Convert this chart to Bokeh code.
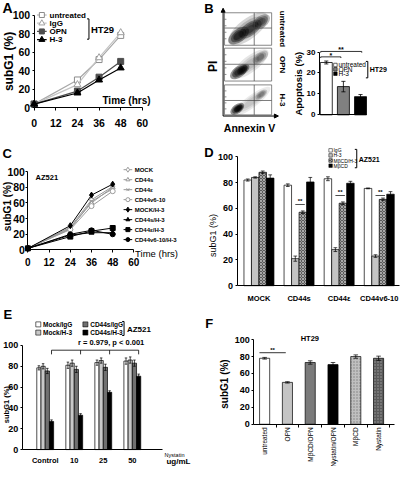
import math
from bokeh.plotting import figure
from bokeh.models import Range1d, FixedTicker, Label, Arrow, NormalHead
from bokeh.layouts import row, column
from bokeh.embed import file_html
from bokeh.resources import INLINE

FONT = "Liberation Sans"
SX = 400 / 416
SY = 466 / 482

# ---------------- data ----------------
a_time = [0, 24, 36, 48]
a_names = ["untreated", "IgG", "OPN", "H-3"]
a_untreated = [4, 30, 52, 78]
a_igg = [4, 25, 54, 81]
a_opn = [4, 18, 33, 50]
a_h3 = [4, 16, 30, 43]
a_x_ticks = [0, 12, 24, 36, 48, 60]

b_flow_labels = ["untreated", "OPN", "H-3"]
b_flow_box_top = [12.7, 49.3, 87.3]
b_flow_box_bottom = [46.3, 83.3, 118.3]
b_flow_quad_v = [0.53, 0.51, 0.48]
# approximate dot-cloud regions of each flow plot (box units, width/height in px, opacity)
b_cloud_u = [[0.50, 0.30, 0.55, 0.78], [0.55, 0.30, 0.40, 0.76], [0.58, 0.27, 0.30, 0.78]]
b_cloud_v = [[0.50, 0.30, 0.50, 0.72], [0.52, 0.28, 0.35, 0.72], [0.45, 0.20, 0.22, 0.68]]
b_cloud_w = [[48, 24, 26, 20], [44, 20, 14, 18], [46, 16, 10, 14]]
b_cloud_h = [[20, 13, 13, 12], [16, 11, 8, 10], [12, 9, 6, 7]]
b_cloud_alpha = [[0.35, 0.85, 0.6, 0.6], [0.22, 0.9, 0.9, 0.4], [0.18, 0.95, 0.95, 0.35]]
b_groups = ["untreated", "OPN", "H-3"]
b_apoptosis = [25.0, 13.5, 8.7]
b_apoptosis_err = [0.7, 2.5, 1.0]
b_colors = ["white", "#808080", "black"]
b_y_ticks = [0, 10, 20, 30]

c_time = [0, 24, 36, 48]
c_names = ["MOCK", "CD44s", "CD44ε", "CD44v6-10",
           "MOCK/H-3", "CD44s/H-3", "CD44ε/H-3", "CD44v6-10/H-3"]
c_mock = [2, 29, 64, 81]
c_cd44s = [2, 28, 60, 80]
c_cd44e = [2, 27, 62, 78]
c_cd44v = [2, 26, 56, 75]
c_mock_h3 = [2, 31, 70, 84]
c_cd44s_h3 = [2, 19, 22, 22]
c_cd44e_h3 = [2, 17, 24, 28]
c_cd44v_h3 = [2, 20, 25, 20]

d_groups = ["MOCK", "CD44s", "CD44ε", "CD44v6-10"]
d_names = ["IgG", "H-3", "MβCD/H-3", "MβCD"]
d_igg = [82, 78, 83, 75.5]
d_igg_err = [0.8, 1.0, 1.5, 0.3]
d_h3 = [84, 21, 28, 23]
d_h3_err = [0.5, 2.0, 1.5, 1.0]
d_mbcd_h3 = [88, 57, 64, 67]
d_mbcd_h3_err = [1.0, 1.0, 1.0, 1.0]
d_mbcd = [83.5, 80.5, 79.5, 71]
d_mbcd_err = [2.5, 3.5, 1.5, 2.0]

e_groups = ["Control", "10", "25", "50"]
e_names = ["Mock/IgG", "Mock/H-3", "CD44s/IgG", "CD44s/H-3"]
e_mock_igg = [78.5, 81, 83.5, 85]
e_mock_igg_err = [2.0, 3.0, 2.5, 3.0]
e_mock_h3 = [80, 83, 85.5, 86]
e_mock_h3_err = [2.5, 3.0, 2.5, 3.0]
e_cd44s_igg = [75.5, 77, 79, 83]
e_cd44s_igg_err = [2.5, 3.0, 3.0, 3.0]
e_cd44s_h3 = [27, 33, 55, 70.5]
e_cd44s_h3_err = [1.5, 1.5, 1.5, 2.0]

f_groups = ["untreated", "OPN", "MβCD/OPN", "Nystatin/OPN", "MβCD", "Nystatin"]
f_values = [78, 49.5, 73, 70.5, 80, 78]
f_err = [1.0, 0.8, 2.0, 2.5, 2.0, 2.5]

subg_ticks = [0, 20, 40, 60, 80, 100]


# ---------------- helpers ----------------
class Panel:
    """A figure whose frame fills it; axes are drawn at fixed data locations.
    Positions of annotations are given in reference-image pixels (rx, ry)."""

    def __init__(self, ox, oy, w, h, ax_rx, ax_ry, kx, ky, x0=0.0, y0=0.0, axes=True):
        self.ax_rx, self.ax_ry, self.kx, self.ky, self.x0, self.y0 = ax_rx, ax_ry, kx, ky, x0, y0
        xs = self.X(ox / SX)
        xe = self.X((ox + w) / SX)
        yb = self.Y((oy + h) / SY)
        yt = self.Y(oy / SY)
        self.p = figure(width=w, height=h, title=None, x_range=Range1d(xs, xe),
                        y_range=Range1d(yb, yt), toolbar_location=None, output_backend="svg",
                        min_border=0, outline_line_color=None)
        self.p.grid.visible = False
        if axes:
            self.p.xaxis.fixed_location = y0
            self.p.yaxis.fixed_location = x0
        else:
            self.p.axis.visible = False

    def X(self, rx):
        return self.x0 + (rx - self.ax_rx) / self.kx

    def Y(self, ry):
        return self.y0 + (self.ax_ry - ry) / self.ky

    def T(self, rx, ry, text, size, bold=False, align="left", base="middle", angle=0.0, dx=None):
        self.p.add_layout(Label(x=self.X(rx) if dx is None else dx, y=self.Y(ry), text=text,
                                text_font=FONT, text_font_size=f"{size}px",
                                text_font_style="bold" if bold else "normal",
                                text_align=align, text_baseline=base, angle=angle,
                                text_color="black"))

    def bracket(self, rx, ry0, ry1, tick=2.0, width=1.0):
        X, Y = self.X, self.Y
        self.p.line([X(rx - tick), X(rx), X(rx), X(rx - tick)], [Y(ry0), Y(ry0), Y(ry1), Y(ry1)],
                    line_color="black", line_width=width)


def axis(ax, ticks, bounds, size, standoff=2, tick_out=2, bold=True, overrides=None):
    ax.ticker = FixedTicker(ticks=ticks)
    ax.bounds = bounds
    ax.axis_line_color = "black"
    ax.axis_line_width = 1
    ax.major_tick_line_color = "black"
    ax.major_tick_in = 0
    ax.major_tick_out = tick_out
    ax.minor_tick_line_color = None
    ax.major_label_standoff = standoff
    ax.major_label_text_font = FONT
    ax.major_label_text_font_size = f"{size}px"
    ax.major_label_text_font_style = "bold" if bold else "normal"
    ax.major_label_text_color = "black"
    if overrides:
        ax.major_label_overrides = overrides


def errbars(p, xs, vals, errs, cap, width=0.8):
    lo = [v - e for v, e in zip(vals, errs)]
    hi = [v + e for v, e in zip(vals, errs)]
    p.segment(x0=xs, y0=lo, x1=xs, y1=hi, line_color="black", line_width=width)
    for ys in (lo, hi):
        p.segment(x0=[x - cap for x in xs], y0=ys, x1=[x + cap for x in xs], y1=ys,
                  line_color="black", line_width=width)


# ================= Panel A =================
A = Panel(0, 0, 202, 145, 35, 111, 1.875, 0.96)
pA, X, Y = A.p, A.X, A.Y
axis(pA.xaxis[0], a_x_ticks, (0, 60), 10.5, standoff=8, tick_out=3)
axis(pA.yaxis[0], subg_ticks, (0, 100), 10.5, standoff=2, tick_out=2)
a_styles = [
    (a_untreated, "#a8a8a8", "square", "white", "#8c8c8c", 6),
    (a_igg, "#c4c4c4", "triangle", "white", "#a0a0a0", 7),
    (a_opn, "#4d4d4d", "square", "#4d4d4d", "#4d4d4d", 6),
    (a_h3, "black", "triangle", "black", "black", 7),
]
a_leg_y = [15, 23.5, 32, 40.5]
for (vals, lc, mk, fc, mlc, sz), name, ly in zip(a_styles, a_names, a_leg_y):
    pA.line(a_time, vals, line_color=lc, line_width=1.2)
    pA.scatter(a_time, vals, marker=mk, size=sz, fill_color=fc, line_color=mlc)
    pA.line([X(38), X(48)], [Y(ly), Y(ly)], line_color=lc, line_width=1.2)
    pA.scatter([X(43)], [Y(ly)], marker=mk, size=sz - 1, fill_color=fc, line_color=mlc)
    A.T(51, ly, name, 8, bold=True)
A.bracket(92, 19, 40)
A.T(94, 29.5, "HT29", 9.5, bold=True)
A.T(106, 103, "Time (hrs)", 10, bold=True)
A.T(2, 8, "A", 14, bold=True)
A.T(8.5, 63, "subG1 (%)", 12, bold=True, align="center", angle=math.pi / 2)

# ================= Panel B flow =================
Bf = Panel(202, 0, 86, 145, 233, 120, 49, 34, axes=False)
pBf, U, V = Bf.p, Bf.X, Bf.Y
for i in range(3):
    yb, yt = V(b_flow_box_bottom[i]), V(b_flow_box_top[i])
    hgt = yt - yb
    for cu, cv, cw, chh, ca in zip(b_cloud_u[i], b_cloud_v[i], b_cloud_w[i],
                                   b_cloud_h[i], b_cloud_alpha[i]):
        for sc in (1.0, 0.75, 0.5):
            pBf.ellipse(x=[cu], y=[yb + cv * hgt], width=[cw * sc], height=[chh * sc], angle=0.65,
                        width_units="screen", height_units="screen",
                        fill_color="black", fill_alpha=ca / 2.2, line_color=None)
    pBf.quad(left=[0], right=[1], bottom=[yb], top=[yt], fill_color=None,
             line_color="#555555", line_width=0.7)
    pBf.segment(x0=[0.63], y0=[yb], x1=[0.63], y1=[yt], line_color="#444444", line_width=0.7)
    qy = yb + b_flow_quad_v[i] * hgt
    pBf.segment(x0=[0], y0=[qy], x1=[1], y1=[qy], line_color="#444444", line_width=0.7)
    pBf.segment(x0=[0] * 4, y0=[yb + hgt * f for f in (0.2, 0.4, 0.6, 0.8)],
                x1=[0.04] * 4, y1=[yb + hgt * f for f in (0.2, 0.4, 0.6, 0.8)],
                line_color="#444444", line_width=0.6)
    Bf.T(293, (b_flow_box_top[i] + b_flow_box_bottom[i]) / 2, b_flow_labels[i], 8, bold=True,
         align="center", angle=-math.pi / 2)
for xe_r, ye_r in ((231.5, 8), (289, 119.5)):
    pBf.add_layout(Arrow(end=NormalHead(size=4, fill_color="black", line_color="black"),
                         x_start=U(231.5), y_start=V(119.5), x_end=U(xe_r), y_end=V(ye_r),
                         line_color="black", line_width=1))
Bf.T(212, 8, "B", 13, bold=True)
Bf.T(221.5, 68, "PI", 12, bold=True, align="center", angle=math.pi / 2)
Bf.T(259, 132, "Annexin V", 10.5, bold=True, align="center")

# ================= Panel B bars =================
B = Panel(288, 0, 112, 145, 331.7, 118.3, 17.8, 2.167)
pB, X, Y = B.p, B.X, B.Y
axis(pB.yaxis[0], b_y_ticks, (0, 30), 8, standoff=2, tick_out=2)
axis(pB.xaxis[0], [], (0, 2.75), 8)
b_x = [i + 0.4 for i in range(len(b_groups))]
pB.vbar(x=b_x, top=b_apoptosis, width=0.7, fill_color=b_colors, line_color="black", line_width=0.8)
errbars(pB, b_x, b_apoptosis, b_apoptosis_err, 0.12)
pB.line([X(333), X(333), X(354), X(354)], [Y(59.5), Y(58.3), Y(58.3), Y(59.5)], line_color="black", line_width=0.8)
B.T(343.5, 56.8, "*", 7, bold=True, align="center")
pB.line([X(333), X(333), X(375.7), X(375.7)], [Y(54), Y(52.7), Y(52.7), Y(54)], line_color="black", line_width=0.8)
B.T(354, 51, "**", 7, bold=True, align="center")
b_leg_y = [66.7, 71.2, 75.7]
for name, col, ly in zip(b_groups, b_colors, b_leg_y):
    pB.rect(x=[X(348.3)], y=[Y(ly)], width=3.5, height=3.5, width_units="screen", height_units="screen",
            fill_color=col, line_color="black", line_width=0.6)
    B.T(351.5, ly, name, 6.5)
B.bracket(382, 63, 80)
B.T(384, 71.5, "HT29", 7, bold=True)
B.T(310, 86, "Apoptosis (%)", 9.5, bold=True, align="center", angle=math.pi / 2)

# ================= Panel C =================
C = Panel(0, 145, 202, 155, 28.5, 258, 1.837, 0.81)
pC, X, Y = C.p, C.X, C.Y
axis(pC.xaxis[0], a_x_ticks, (0, 60), 10, standoff=5, tick_out=3)
axis(pC.yaxis[0], subg_ticks, (0, 100), 10.5, standoff=1, tick_out=2)
grey = "#9a9a9a"
c_styles = [
    (c_mock, grey, "diamond", "white", 6),
    (c_cd44s, grey, "triangle", "white", 5),
    (c_cd44e, grey, "x", "white", 5),
    (c_cd44v, grey, "circle", "white", 5),
    (c_mock_h3, "black", "diamond", "black", 6),
    (c_cd44s_h3, "black", "triangle", "black", 5),
    (c_cd44e_h3, "black", "square", "black", 5),
    (c_cd44v_h3, "black", "circle", "black", 5),
]
c_leg_y = [175 + 10.33 * k for k in range(8)]
for (vals, lc, mk, fc, sz), name, ly in zip(c_styles, c_names, c_leg_y):
    pC.line(c_time, vals, line_color=lc, line_width=1)
    pC.scatter(c_time, vals, marker=mk, size=sz, fill_color=fc, line_color=lc)
    pC.line([X(128), X(137)], [Y(ly), Y(ly)], line_color=lc, line_width=1)
    pC.scatter([X(132.5)], [Y(ly)], marker=mk, size=sz - 1, fill_color=fc, line_color=lc)
    C.T(139.5, ly, name, 6, bold=True)
C.T(36.5, 183.5, "AZ521", 7.5, bold=True)
C.T(140, 262, "Time (hrs)", 9.5)
C.T(2, 158, "C", 13, bold=True)
C.T(7.5, 213, "subG1 (%)", 10, bold=True, align="center", angle=math.pi / 2)

# ================= Panel D =================
d_x0 = -(268.8 - 246) / 41.7
D = Panel(202, 145, 198, 164, 246, 295, 41.7, 1.333, x0=d_x0)
pD, X, Y = D.p, D.X, D.Y
axis(pD.yaxis[0], subg_ticks, (0, 100), 9, standoff=2, tick_out=2)
axis(pD.xaxis[0], [], (d_x0, X(415)), 8)
dbw = 0.187
d_series = [
    (d_igg, d_igg_err, dict(fill_color="white")),
    (d_h3, d_h3_err, dict(fill_color="#c4c4c4")),
    (d_mbcd_h3, d_mbcd_h3_err, dict(fill_color="#5a5a5a", hatch_pattern="diagonal_cross",
                                    hatch_color="#dddddd", hatch_scale=3, hatch_weight=0.6)),
    (d_mbcd, d_mbcd_err, dict(fill_color="black")),
]
d_leg_y = [155, 160.2, 165.5, 170.8]
for k, ((vals, errs, sty), name, ly) in enumerate(zip(d_series, d_names, d_leg_y)):
    xs = [i + (k - 1.5) * dbw for i in range(len(d_groups))]
    pD.vbar(x=xs, top=vals, width=dbw, line_color="black", line_width=0.7, **sty)
    errbars(pD, xs, vals, errs, dbw * 0.25, width=0.7)
    pD.rect(x=[X(343.3)], y=[Y(ly)], width=3.5, height=3.5, width_units="screen",
            height_units="screen", line_color="black", line_width=0.5, **sty)
    D.T(346.3, ly, name, 5)
D.bracket(370.5, 154, 173)
D.T(372.5, 164, "AZ521", 7, bold=True)
d_sig_y = [211, 201.7, 201.7]
for gi, sy in zip([1, 2, 3], d_sig_y):
    xa, xb = gi - 0.5 * dbw, gi + 0.5 * dbw + 0.05
    pD.line([xa, xb], [Y(sy), Y(sy)], line_color="black", line_width=0.7)
    D.T(0, sy - 3.5, "**", 6, bold=True, align="center", dx=(xa + xb) / 2)
for gi, g in enumerate(d_groups):
    D.T(0, 308.5, g, 7.5, bold=True, align="center", dx=gi)
D.T(212, 157, "D", 13, bold=True)
D.T(220.5, 243, "subG1 (%)", 9, align="center", angle=math.pi / 2)

# ================= Panel E =================
e_x0 = -(46.5 - 22.7) / 30.2
E = Panel(0, 300, 202, 166, 22.7, 464.5, 30.2, 1.077, x0=e_x0)
pE, X, Y = E.p, E.X, E.Y
axis(pE.yaxis[0], subg_ticks, (0, 100), 9, standoff=2, tick_out=2)
axis(pE.xaxis[0], [], (e_x0, X(168.5)), 8)
ebw = 0.145
e_series = [
    (e_mock_igg, e_mock_igg_err, "white"),
    (e_mock_h3, e_mock_h3_err, "#c8c8c8"),
    (e_cd44s_igg, e_cd44s_igg_err, "#707070"),
    (e_cd44s_h3, e_cd44s_h3_err, "black"),
]
e_leg_x = [39.3, 39.3, 88.3, 88.3]
e_leg_y = [335, 343.5, 335, 343.5]
black_x = []
for k, ((vals, errs, col), name, lx, ly) in enumerate(zip(e_series, e_names, e_leg_x, e_leg_y)):
    xs = [i + (k - 1.5) * ebw for i in range(len(e_groups))]
    if k == 3:
        black_x = xs
    pE.vbar(x=xs, top=vals, width=ebw, fill_color=col, line_color="black", line_width=0.7)
    errbars(pE, xs, vals, errs, ebw * 0.3, width=0.7)
    pE.rect(x=[X(lx)], y=[Y(ly)], width=5, height=5, width_units="screen", height_units="screen",
            fill_color=col, line_color="black", line_width=0.6)
    E.T(lx + 5, ly, name, 6.5, bold=True)
E.bracket(128.5, 332, 346.5)
E.T(131.5, 340, "AZ521", 8, bold=True)
pE.line([black_x[0], black_x[-1]], [Y(361.7), Y(361.7)], line_color="black", line_width=0.8)
pE.segment(x0=black_x, y0=[Y(361.7)] * 4, x1=black_x, y1=[Y(366)] * 4, line_color="black", line_width=0.8)
E.T(115, 353.5, "r = 0.979, p < 0.001", 7.5, bold=True, align="center")
for gi, g in enumerate(e_groups):
    E.T(0, 475.5, g, 7.5, bold=True, align="center", dx=gi)
E.T(181, 470.5, "Nystatin", 5.5, align="center")
E.T(185, 477, "ug/mL", 8, bold=True, align="center")
E.T(3, 325, "E", 13, bold=True)
E.T(6.5, 418, "subG1 (%)", 7.5, bold=True, align="center", angle=math.pi / 2)

# ================= Panel F =================
f_x0 = -(274.7 - 263.3) / 23.7
F = Panel(202, 309, 198, 157, 263.3, 438.3, 23.7, 0.875, x0=f_x0)
pF, X, Y = F.p, F.X, F.Y
axis(pF.yaxis[0], subg_ticks, (0, 100), 9, standoff=2, tick_out=2)
f_bounds_ticks = [i + 0.5 for i in range(len(f_groups))]
axis(pF.xaxis[0], f_bounds_ticks, (f_x0, X(410)), 6, tick_out=3,
     overrides={t: "" for t in f_bounds_ticks})
f_styles = [
    dict(fill_color="white"),
    dict(fill_color="#c4c4c4"),
    dict(fill_color="#7a7a7a"),
    dict(fill_color="black"),
    dict(fill_color="#c0c0c0", hatch_pattern="dot", hatch_color="#808080", hatch_scale=3),
    dict(fill_color="#5a5a5a", hatch_pattern="dot", hatch_color="#a0a0a0", hatch_scale=3),
]
fbw = 0.443
for i, (v, sty) in enumerate(zip(f_values, f_styles)):
    pF.vbar(x=[i], top=[v], width=fbw, line_color="black", line_width=0.7, **sty)
errbars(pF, list(range(len(f_groups))), f_values, f_err, 0.1, width=0.7)
pF.line([X(269.3), X(296.7)], [Y(364.3), Y(364.3)], line_color="black", line_width=0.8)
F.T(283, 361.5, "**", 6, bold=True, align="center")
for i, g in enumerate(f_groups):
    F.T(0, 441.5, g, 6.5, align="right", angle=math.pi / 2, dx=i)
F.T(321.7, 350, "HT29", 7.5, bold=True, align="center")
F.T(213, 334, "F", 13, bold=True)
F.T(233, 396.7, "subG1 (%)", 10, bold=True, align="center", angle=math.pi / 2)

layout = row(column(A.p, C.p, E.p), column(row(pBf, B.p), D.p, F.p))
open("out.html", "w").write(file_html(layout, INLINE))
